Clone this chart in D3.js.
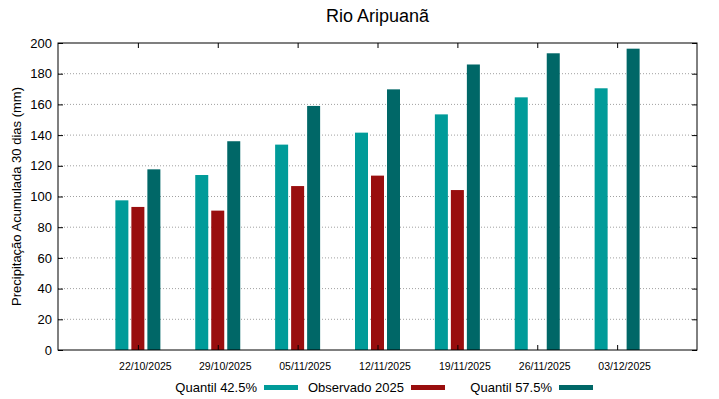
<!DOCTYPE html>
<meta charset="utf-8">
<style>
body { margin: 0; background: #fff; }
text { font-family: "Liberation Sans", Arial, sans-serif; fill: #000; }
.grid line { stroke: #a0a0a0; stroke-dasharray: 1,2; }
.xlab { font-family: "Liberation Sans", Arial, sans-serif; font-size: 10.5px; }
</style>

<svg width="719" height="399"></svg>

<script src="https://d3js.org/d3.v7.min.js"></script>
<script>

var datas = ["22/10/2025", "29/10/2025", "05/11/2025", "12/11/2025", "19/11/2025", "26/11/2025", "03/12/2025"];
var q425 = [97.5, 114, 133.8, 141.6, 153.5, 164.6, 170.5];
var obs2025 = [93.2, 90.8, 106.8, 113.6, 104.2, null, null];
var q575 = [117.7, 136, 159, 169.8, 186, 193.3, 196.3];
var yTicks = [0, 20, 40, 60, 80, 100, 120, 140, 160, 180, 200];

var series = [
  {nome: "Quantil 42.5%", valores: q425, cor: "#009b99", desloc: -16},
  {nome: "Observado 2025", valores: obs2025, cor: "#990e0e", desloc: 0},
  {nome: "Quantil 57.5%", valores: q575, cor: "#006767", desloc: 16}
];

var svg = d3.select("svg");
var esq = 58, dir = 697, topo = 43, base = 350;

var x = d3.scaleLinear().domain([-1, datas.length]).range([esq, dir]);
var y = d3.scaleLinear().domain([0, 200]).range([base, topo]);
var larg = 13;

// grade pontilhada
svg.append("g")
    .attr("class", "grid")
  .selectAll("line")
  .data(yTicks.slice(1, -1))
  .enter().append("line")
    .attr("x1", esq).attr("x2", dir)
    .attr("y1", d => y(d)).attr("y2", d => y(d));

// barras
series.forEach(function(s) {
  svg.append("g")
    .selectAll("rect")
    .data(s.valores.map((v, i) => ({v: v, i: i})).filter(d => d.v != null))
    .enter().append("rect")
      .attr("x", d => x(d.i) + s.desloc - larg / 2)
      .attr("width", larg)
      .attr("y", d => y(d.v))
      .attr("height", d => base - y(d.v))
      .attr("fill", s.cor);
});

// eixo y
svg.append("g")
    .attr("transform", "translate(" + esq + ",0)")
    .call(d3.axisLeft(y).tickValues(yTicks).tickSize(-5).tickPadding(6))
    .call(g => g.select(".domain").remove())
    .call(g => g.selectAll("text").style("font-size", "13px").attr("font-family", null))
    .call(g => g.selectAll("line").attr("stroke", "#000"));

svg.append("g")
    .attr("transform", "translate(" + dir + ",0)")
    .call(d3.axisRight(y).tickValues(yTicks).tickSize(-5).tickFormat(""))
    .call(g => g.select(".domain").remove());

// eixo x
var idx = d3.range(datas.length);
svg.append("g")
    .attr("transform", "translate(0," + base + ")")
    .call(d3.axisBottom(x).tickValues(idx).tickSize(-5).tickPadding(13).tickFormat(i => datas[i]))
    .call(g => g.select(".domain").remove())
    .call(g => g.selectAll("text").attr("class", "xlab").attr("font-family", null).attr("font-size", null).attr("dx", 7));

svg.append("g")
    .attr("transform", "translate(0," + topo + ")")
    .call(d3.axisTop(x).tickValues(idx).tickSize(-5).tickFormat(""))
    .call(g => g.select(".domain").remove());

// moldura
svg.append("rect")
    .attr("x", esq).attr("y", topo)
    .attr("width", dir - esq).attr("height", base - topo)
    .attr("fill", "none").attr("stroke", "#000");

// titulo
svg.append("text")
    .attr("x", (esq + dir) / 2).attr("y", 22)
    .attr("text-anchor", "middle")
    .style("font-size", "18px")
    .text("Rio Aripuanã");

svg.append("text")
    .attr("transform", "translate(21," + ((topo + base) / 2) + ") rotate(-90)")
    .attr("text-anchor", "middle")
    .style("font-size", "13px")
    .text("Precipitação Acumulada 30 dias (mm)");

// legenda
var legX = [257, 404, 552];
series.forEach(function(s, i) {
  svg.append("text")
      .attr("x", legX[i]).attr("y", 392)
      .attr("text-anchor", "end")
      .style("font-size", "13px")
      .text(s.nome);
  svg.append("rect")
      .attr("x", legX[i] + 7).attr("y", 385)
      .attr("width", 34).attr("height", 5)
      .attr("fill", s.cor);
});

</script>
